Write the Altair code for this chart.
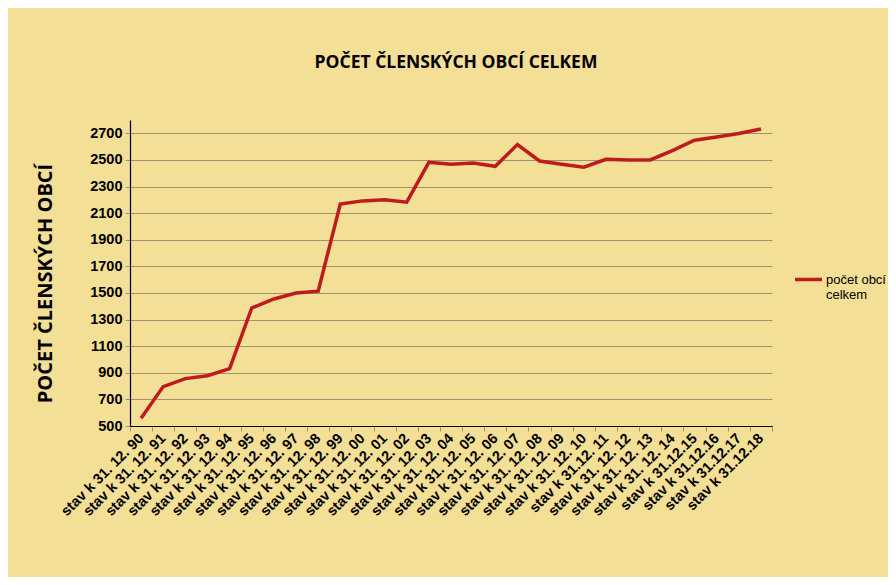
import altair as alt
import pandas as pd

years = ["90", "91", "92", "93", "94", "95", "96", "97", "98", "99",
         "00", "01", "02", "03", "04", "05", "06", "07", "08", "09",
         "10", "11", "12", "13", "14", "15", "16", "17", "18"]
labels = ["stav k 31. 12. " + y for y in years[:21]] + ["stav k 31.12. 11"] + \
         ["stav k 31. 12. " + y for y in years[22:25]] + \
         ["stav k 31.12." + y for y in years[25:]]
values = [558, 796, 856, 878, 931, 1387, 1455, 1500, 1513, 2169,
          2192, 2200, 2182, 2482, 2467, 2477, 2452, 2615, 2492, 2467,
          2445, 2505, 2500, 2500, 2570, 2648, 2673, 2698, 2733]
series_name = "počet obcí celkem"
y_ticks = list(range(500, 2701, 200))

df = pd.DataFrame({"label": labels, "value": values, "series": series_name})

BG = "#F3DF95"
RED = "#BE1B1F"
GRID = "#A09270"

chart = alt.Chart(df).mark_line(strokeWidth=3.5, color=RED).encode(
    x=alt.X("label:O", sort=labels,
            scale=alt.Scale(type="band", paddingInner=0, paddingOuter=0),
            axis=alt.Axis(title=None, labelAngle=-45, labelAlign="right",
                          labelBaseline="middle", tickBand="extent",
                          labelFont="Liberation Sans", labelFontWeight="bold",
                          labelFontSize=14.5, labelColor="#000000",
                          labelPadding=5, tickSize=5, tickColor=GRID,
                          domainColor="#000000", domainWidth=1.2,
                          grid=False, labelOverlap=False, labelLimit=300)),
    y=alt.Y("value:Q", scale=alt.Scale(domain=[500, 2800], nice=False),
            axis=alt.Axis(values=y_ticks, format="d",
                          title="POČET ČLENSKÝCH OBCÍ",
                          titleFont="Open Sans", titleFontWeight="bold",
                          titleFontSize=20, titleColor="#000000",
                          titleAngle=-90, titleAlign="center",
                          titleBaseline="middle",
                          titleX=-85, titleY=163,
                          labelFont="Liberation Sans", labelFontWeight="bold",
                          labelFontSize=14.5, labelColor="#000000",
                          labelPadding=3, tickSize=5, tickColor=GRID,
                          domainColor="#000000", domainWidth=1.2,
                          grid=True, gridColor=GRID, gridWidth=1.2)),
    color=alt.Color("series:N",
                    scale=alt.Scale(domain=[series_name], range=[RED]),
                    legend=alt.Legend(title=None, orient="none",
                                      legendX=663, legendY=144,
                                      symbolType="stroke", symbolSize=729,
                                      symbolStrokeWidth=3.5,
                                      labelExpr="['počet obcí', 'celkem']",
                                      labelFont="Liberation Sans",
                                      labelFontSize=13, labelColor="#000000",
                                      labelOffset=2)),
).properties(
    width=642, height=306,
    title=alt.TitleParams("POČET ČLENSKÝCH OBCÍ CELKEM", font="Open Sans",
                          fontWeight="bold", fontSize=17.5, color="#000000",
                          anchor="middle", offset=49, dx=5),
    autosize=alt.AutoSizeParams(type="none"),
    padding={"left": 122, "top": 112, "right": 116, "bottom": 151},
    background=BG,
).configure_view(stroke=None)

chart.save("out.html", embed_options={"renderer": "svg", "actions": False})
